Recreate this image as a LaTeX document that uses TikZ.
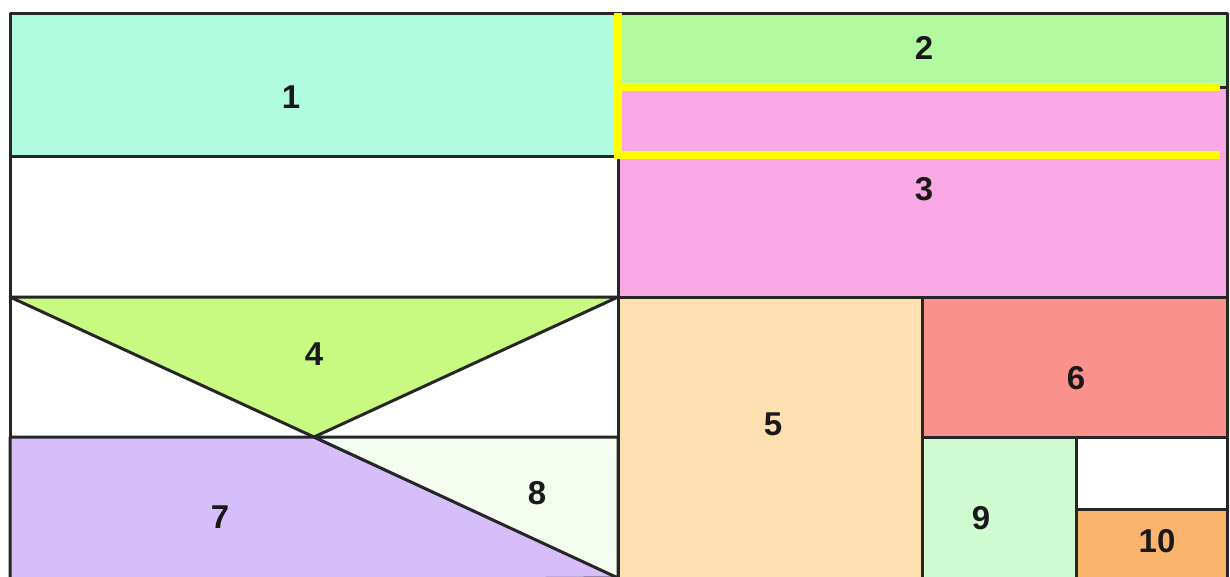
\documentclass[tikz,border=0pt]{standalone}
\usepackage{fontspec}
\setmainfont{Liberation Sans}
\usetikzlibrary{positioning}
\definecolor{cOne}{RGB}{176,251,224}
\definecolor{cTwo}{RGB}{178,250,160}
\definecolor{cThree}{RGB}{248,168,226}
\definecolor{cFour}{RGB}{200,250,130}
\definecolor{cFive}{RGB}{252,224,176}
\definecolor{cSix}{RGB}{250,145,140}
\definecolor{cSeven}{RGB}{214,190,250}
\definecolor{cEight}{RGB}{244,252,240}
\definecolor{cNine}{RGB}{208,250,208}
\definecolor{cTen}{RGB}{250,180,110}
\definecolor{hiYellow}{RGB}{255,255,0}
\tikzset{
  part/.style={draw=black!85, line width=3pt, line join=round},
  hiline/.style={draw=hiYellow, line width=8pt, line join=miter},
  tag/.style={font=\fontsize{33}{38}\selectfont\bfseries, text=black!90}
}

\begin{document}
\begin{tikzpicture}[x=1pt,y=-1pt]
        \useasboundingbox (0,0) rectangle (1230,576);
        \clip (0,0) rectangle (1230,576);
        % top band
        \filldraw[part, fill=cOne] (10,13) rectangle (618,156);
        \draw[part] (10,156) rectangle (618,297);
        \filldraw[part, fill=cTwo] (618,13) rectangle (1227,87);
        \filldraw[part, fill=cThree] (618,87) rectangle (1227,297);
        % lower left: triangles
        \draw[part] (10,297) rectangle (618,437);
        \filldraw[part, fill=cFour] (10,297) -- (618,297) -- (314,437) -- cycle;
        \filldraw[part, fill=cSeven] (10,437) -- (314,437) -- (620,578) -- (10,582) -- cycle;
        \filldraw[part, fill=cEight] (314,437) -- (618,437) -- (618,578) -- cycle;
        % lower right
        \filldraw[part, fill=cFive] (618,297) rectangle (922,582);
        \filldraw[part, fill=cSix] (922,297) rectangle (1227,437);
        \filldraw[part, fill=cNine] (922,437) rectangle (1076,582);
        \draw[part] (1076,437) rectangle (1227,509);
        \filldraw[part, fill=cTen] (1076,509) rectangle (1227,582);
        % highlight
        \draw[hiline] (618,13) -- (618,155) -- (1220,155);
        \draw[hiline] (618,87) -- (1220,87);
        \foreach \n/\x/\y in {1/291/97, 2/924/48, 3/924/189, 4/314/354, 5/773/424,
                              6/1076/378, 7/220/517, 8/537/493, 9/981/518, 10/1157/541}
          \node[tag] (lbl\n) at (\x,\y) {\n};
      \end{tikzpicture}
\end{document}
